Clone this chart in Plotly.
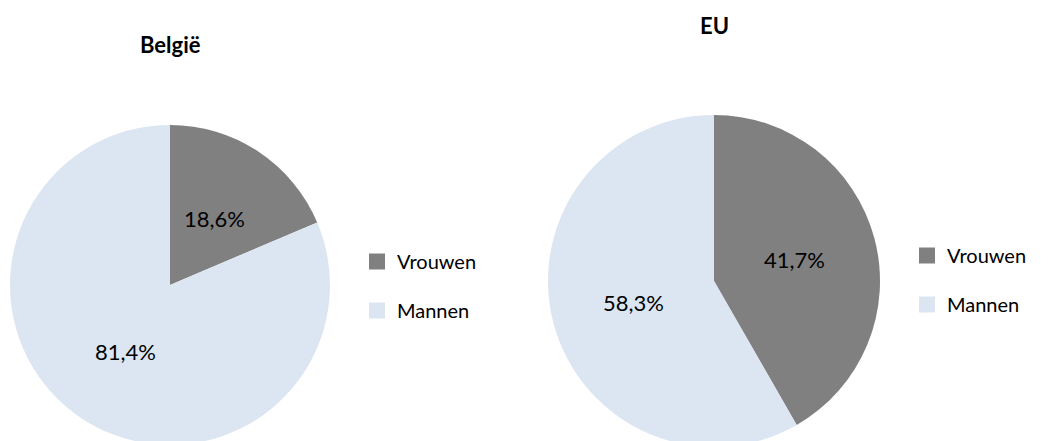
import math
import plotly.graph_objects as go

labels = ["Vrouwen", "Mannen"]
belgie = [18.6, 81.4]
eu = [41.7, 58.3]
titles = ["België", "EU"]
colors = ["#808080", "#dce6f2"]

W, H = 1048, 452
FONT = "Lato, 'Open Sans', Arial, sans-serif"

# pie boxes in pixels (left, right, top, bottom)
boxes = [(10, 330, 125, 445), (548, 880, 115, 447)]
title_y = [44, 25]

def px_dom(x0, x1, y0, y1):
    return dict(x=[x0 / W, x1 / W], y=[(H - y1) / H, (H - y0) / H])

fig = go.Figure()
annotations = []
for vals, box, title, ty in zip([belgie, eu], boxes, titles, title_y):
    fig.add_trace(go.Pie(labels=labels, values=vals, sort=False, direction="clockwise",
                         rotation=0, marker=dict(colors=colors, line=dict(width=0)),
                         textinfo="none", showlegend=False, domain=px_dom(*box),
                         hoverinfo="label+percent"))
    x0, x1, y0, y1 = box
    cx, cy, r = (x0 + x1) / 2, (y0 + y1) / 2, (x1 - x0) / 2
    total = sum(vals)
    cum = 0.0
    for v in vals:
        mid = (cum + v / 2) / total * 2 * math.pi
        cum += v
        lx = cx + 0.5 * r * math.sin(mid)
        ly = cy - 0.5 * r * math.cos(mid)
        annotations.append(dict(text=("%.1f%%" % (v / total * 100)).replace(".", ","),
                                x=lx / W, y=(H - ly) / H, xref="paper", yref="paper",
                                xanchor="center", yanchor="middle", showarrow=False,
                                font=dict(size=22, family=FONT, color="black")))
    annotations.append(dict(text="<b>%s</b>" % title, x=cx / W, y=(H - ty) / H,
                            xref="paper", yref="paper", xanchor="center", yanchor="middle",
                            showarrow=False, font=dict(size=22, family=FONT, color="black")))

# legend entries
for lg in ["legend", "legend2"]:
    for lab, col in zip(labels, colors):
        fig.add_trace(go.Scatter(x=[None], y=[None], mode="markers", name=lab,
                                 marker=dict(symbol="square", size=16, color=col),
                                 legend=lg, legendgroup=lg + lab, showlegend=True,
                                 hoverinfo="skip"))

leg_common = dict(font=dict(size=20, family=FONT, color="black"), tracegroupgap=20,
                  bgcolor="rgba(0,0,0,0)", xanchor="left", yanchor="top")

fig.update_layout(
    width=W, height=H, autosize=False,
    margin=dict(l=0, r=0, t=0, b=0),
    paper_bgcolor="white", plot_bgcolor="white",
    separators=",.",
    xaxis=dict(visible=False), yaxis=dict(visible=False),
    legend=dict(x=357 / W, y=(H - 242) / H, **leg_common),
    legend2=dict(x=907 / W, y=(H - 236) / H, **leg_common),
    annotations=annotations,
)

fig.write_html("out.html", config={"displayModeBar": False},
               post_script="document.documentElement.style.overflow='hidden';document.body.style.overflow='hidden';document.body.style.margin='0';")
